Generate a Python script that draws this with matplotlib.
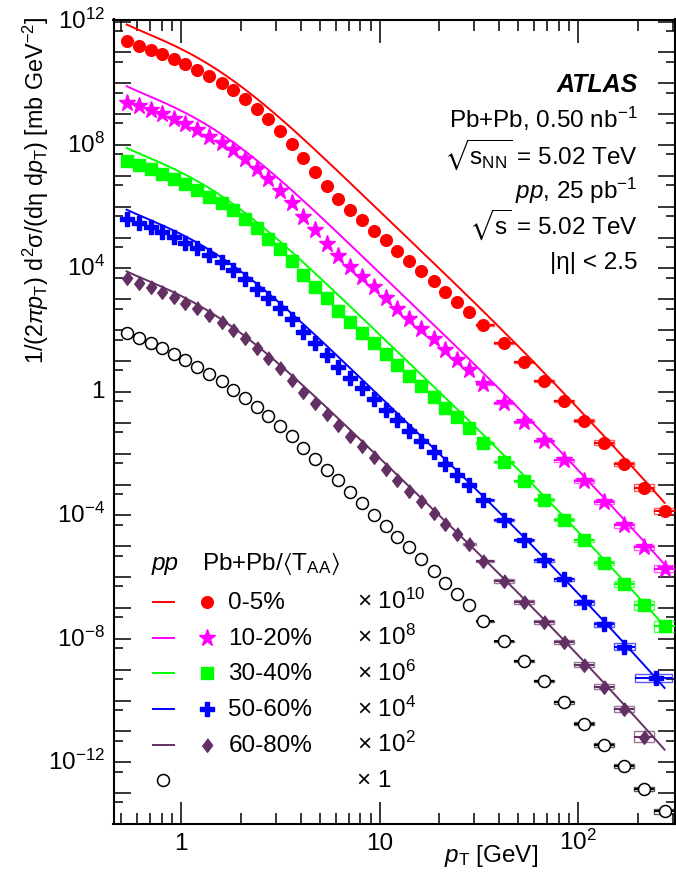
import numpy as np
import matplotlib
matplotlib.use("Agg")
import matplotlib.pyplot as plt
from matplotlib.patches import Rectangle
from matplotlib.lines import Line2D
from matplotlib import transforms
from matplotlib.ticker import LogLocator, FixedLocator, NullFormatter

plt.rcParams['font.family'] = ['Liberation Sans', 'DejaVu Sans']
plt.rcParams['mathtext.fontset'] = 'custom'
plt.rcParams['mathtext.rm'] = 'Liberation Sans'
plt.rcParams['mathtext.it'] = 'Liberation Sans:italic'
plt.rcParams['mathtext.bf'] = 'Liberation Sans:bold'
plt.rcParams['mathtext.fallback'] = 'stixsans'

# ---------------- data ----------------
pt = [0.532, 0.616, 0.704, 0.805, 0.922, 1.05, 1.20, 1.39, 1.60, 1.83,
      2.10, 2.41, 2.75, 3.15, 3.61, 4.13, 4.73, 5.42, 6.20, 7.10,
      8.13, 9.38, 10.8, 12.2, 14.0, 16.1, 18.7, 21.4, 24.5, 28.3,
      33.3, 42.4, 53.5, 67.6, 85.0, 107, 135, 169, 215, 272]

pp = [78.4, 54.0, 37.2, 25.6, 17.6, 10.7, 6.47, 3.95, 2.27, 1.18,
      0.625, 0.319, 0.163, 0.0772, 0.0366, 0.0157, 6.91e-3, 3.02e-3, 1.39e-3, 5.58e-4,
      2.45e-4, 1.06e-4, 4.57e-5, 1.98e-5, 9.18e-6, 3.80e-6, 1.60e-6, 6.47e-7, 2.89e-7, 1.21e-7,
      3.73e-8, 8.38e-9, 1.88e-9, 4.23e-10, 8.81e-11, 1.75e-11, 3.74e-12, 7.79e-13, 1.37e-13, 2.57e-14]

cent_0_5 = [23.7, 16.7, 12.4, 8.79, 6.18, 4.17, 2.72, 1.74, 1.01, 0.597,
            0.305, 0.145, 0.0686, 0.0292, 0.0108, 3.72e-3, 1.29e-3, 4.70e-4, 1.82e-4, 8.0e-5,
            3.62e-5, 1.67e-5, 8.15e-6, 3.80e-6, 1.80e-6, 8.22e-7, 3.84e-7, 1.75e-7, 8.30e-8, 3.94e-8,
            1.46e-8, 3.88e-9, 9.40e-10, 2.28e-10, 5.11e-11, 1.15e-11, 2.29e-12, 4.76e-13, 7.93e-14, 1.38e-14]

cent_10_20 = [23.7, 18.5, 13.7, 9.95, 7.00, 4.71, 3.08, 1.87, 1.14, 0.692,
              0.345, 0.164, 0.0774, 0.0331, 0.0129, 4.82e-3, 1.76e-3, 6.41e-4, 2.62e-4, 1.11e-4,
              5.25e-5, 2.43e-5, 1.07e-5, 4.89e-6, 2.23e-6, 1.06e-6, 5.01e-7, 2.25e-7, 1.07e-7, 5.18e-8,
              1.78e-8, 4.40e-9, 1.06e-9, 2.58e-10, 6.09e-11, 1.30e-11, 2.70e-12, 4.74e-13, 9.38e-14, 1.87e-14]

cent_30_40 = [30.4, 22.5, 16.7, 11.3, 7.93, 5.33, 3.48, 2.11, 1.29, 0.813,
              0.391, 0.200, 0.0877, 0.0416, 0.0170, 6.32e-3, 2.49e-3, 1.07e-3, 4.15e-4, 1.86e-4,
              8.20e-5, 3.72e-5, 1.67e-5, 7.52e-6, 3.30e-6, 1.53e-6, 6.98e-7, 3.12e-7, 1.51e-7, 7.00e-8,
              2.22e-8, 5.37e-9, 1.30e-9, 3.24e-10, 7.26e-11, 1.55e-11, 2.84e-12, 6.10e-13, 1.21e-13, 2.51e-14]

cent_50_60 = [39.1, 30.3, 21.5, 15.5, 10.2, 6.81, 4.48, 2.72, 1.65, 0.906,
              0.443, 0.219, 0.109, 0.0507, 0.0223, 8.83e-3, 3.72e-3, 1.55e-3, 6.67e-4, 2.93e-4,
              1.34e-4, 5.89e-5, 2.69e-5, 1.24e-5, 5.40e-6, 2.48e-6, 1.13e-6, 4.62e-7, 2.06e-7, 9.42e-8,
              3.07e-8, 7.26e-9, 1.63e-9, 3.48e-10, 8.41e-11, 1.54e-11, 2.92e-12, 5.64e-13, 5.45e-14]
pt_50_60_last = 247.0          # last (merged) bin centre of 50-60%
bin_50_60_last = (193.0, 296.0)

cent_60_80 = [47.6, 32.8, 24.3, 17.5, 11.5, 7.71, 5.07, 3.08, 1.86, 1.00,
              0.540, 0.256, 0.129, 0.0588, 0.0240, 0.0103, 4.53e-3, 1.99e-3, 8.77e-4, 3.79e-4,
              1.73e-4, 7.62e-5, 3.16e-5, 1.44e-5, 6.34e-6, 2.85e-6, 1.19e-6, 5.38e-7, 2.48e-7, 1.15e-7,
              3.30e-8, 7.24e-9, 1.54e-9, 3.47e-10, 7.78e-11, 1.47e-11, 2.84e-12, 5.38e-13, 6.79e-14]

# relative systematic uncertainties of the last points of each series
sys_pp = [0.04, 0.05, 0.06, 0.08, 0.10, 0.12, 0.16, 0.16, 0.19, 0.22]
sys_0_5 = [0.06, 0.07, 0.08, 0.09, 0.10, 0.12, 0.19, 0.16, 0.28, 0.28]
sys_10_20 = [0.06, 0.07, 0.08, 0.09, 0.10, 0.12, 0.15, 0.19, 0.21, 0.28]
sys_30_40 = [0.06, 0.07, 0.08, 0.09, 0.10, 0.12, 0.16, 0.25, 0.38, 0.49]
sys_50_60 = [0.06, 0.07, 0.08, 0.09, 0.10, 0.12, 0.19, 0.21, 0.28, 0.37]
sys_60_80 = [0.08, 0.10, 0.16, 0.16, 0.16, 0.16, 0.19, 0.21, 0.22, 0.54]

labels = ["0-5%", "10-20%", "30-40%", "50-60%", "60-80%"]
scale_exp = [10, 8, 6, 4, 2]

# ---------------- figure ----------------
W, H = 676, 874
fig = plt.figure(figsize=(W / 100, H / 100), dpi=100)

def fx(x):
    return x / W

def fy(y):
    return 1 - y / H

ax_l, ax_r, ax_t, ax_b = 113.5, 675.0, 19.5, 824.0
ax = fig.add_axes([fx(ax_l), fy(ax_b), (ax_r - ax_l) / W, (ax_b - ax_t) / H])
ax.set_xscale('log')
ax.set_yscale('log')
ax.set_xlim(0.457, 307)
ax.set_ylim(1e-14, 1.17e12)

pt_arr = np.array(pt)
mid = np.sqrt(pt_arr[:-1] * pt_arr[1:])
lo = np.concatenate([[pt_arr[0] ** 2 / mid[0]], mid])
hi = np.concatenate([mid, [pt_arr[-1] ** 2 / mid[-1]]])

cols = ['#ff0000', '#ff00ff', '#00ff00', '#0000ff', '#633063']
markers = ['o', '*', 's', 'P', [(0, 1), (0.75, 0), (0, -1), (-0.75, 0)]]
msizes = [8.4, 12.5, 8.3, 9.6, 9.8]
series = [cent_0_5, cent_10_20, cent_30_40, cent_50_60, cent_60_80]
syss = [sys_0_5, sys_10_20, sys_30_40, sys_50_60, sys_60_80]

pp_arr = np.array(pp)

# smooth pp reference curve (fit to the pp points in log-log space)
lx = np.log10(pt_arr)
ly = np.log10(pp_arr)
coef = np.polyfit(lx, ly, 7)
xs = np.logspace(lx[0], lx[-1], 300)
pp_curve = 10.0 ** np.polyval(coef, np.log10(xs))


def draw_series(x, xlo, xhi, y, color, marker, ms, mfc, sysv, mew=1.0):
    x = np.asarray(x); y = np.asarray(y)
    xlo = np.asarray(xlo); xhi = np.asarray(xhi)
    n = len(sysv)
    for xi, yi, s, a, b in zip(x[-n:], y[-n:], sysv, xlo[-n:], xhi[-n:]):
        ax.add_patch(Rectangle((a, yi / (1 + s)), b - a, yi * (1 + s) - yi / (1 + s),
                               fill=False, ec=color, lw=1.0, alpha=0.65, zorder=3))
    sel = x > 30
    ax.hlines(y[sel], xlo[sel], xhi[sel], color=color, lw=1.5, zorder=3)
    ax.plot(x, y, ls='none', marker=marker, ms=ms, mfc=mfc, mec=color,
            mew=mew, zorder=5)


# scaled pp reference lines
for c, e in zip(cols, scale_exp):
    ax.plot(xs, pp_curve * 10.0 ** e, color=c, lw=1.4, zorder=4)

# Pb+Pb points
for i, (yv, c, m, ms, sv, e) in enumerate(zip(series, cols, markers, msizes, syss, scale_exp)):
    yv = np.array(yv) * 10.0 ** e
    n = len(yv)
    if i == 3:
        xv = np.concatenate([pt_arr[:n - 1], [pt_50_60_last]])
        xl = np.concatenate([lo[:n - 1], [bin_50_60_last[0]]])
        xh = np.concatenate([hi[:n - 2], [bin_50_60_last[0], bin_50_60_last[1]]])
    else:
        xv = pt_arr[:n]; xl = lo[:n]; xh = hi[:n]
    draw_series(xv, xl, xh, yv, c, m, ms, c, sv)

# pp points (x 1)
draw_series(pt_arr, lo, hi, pp_arr, 'black', 'o', 8.6, 'white', sys_pp, mew=1.1)

# ---------------- axes styling ----------------
for sp in ax.spines.values():
    sp.set_linewidth(1.5)
ax.xaxis.set_major_locator(LogLocator(base=10, numticks=20))
ax.xaxis.set_minor_locator(LogLocator(base=10, subs=np.arange(2, 10), numticks=20))
ax.yaxis.set_major_locator(LogLocator(base=10, numticks=60))
ax.yaxis.set_minor_locator(FixedLocator([5 * 10.0 ** k for k in range(-15, 13)]))
ax.xaxis.set_minor_formatter(NullFormatter())
ax.yaxis.set_minor_formatter(NullFormatter())
ax.tick_params(axis='x', which='major', direction='in', length=16.2, width=1.1, top=True)
ax.tick_params(axis='x', which='minor', direction='in', length=8.1, width=1.1, top=True)
ax.tick_params(axis='y', which='major', direction='in', length=12.5, width=1.1, right=True)
ax.tick_params(axis='y', which='minor', direction='in', length=6.2, width=1.1, right=True)
ax.tick_params(labelbottom=False, labelleft=False)

FS = 17.5
# y tick labels
ytr = transforms.blended_transform_factory(fig.transFigure, ax.transData)
for k in [12, 8, 4, 0, -4, -8, -12]:
    lab = "1" if k == 0 else r"10$^{%d}$" % k
    fig.text(fx(105), 10.0 ** k, lab, transform=ytr, ha='right', va='center', fontsize=FS)
# x tick labels
xtr = transforms.blended_transform_factory(ax.transData, fig.transFigure)
for v, lab in [(1, "1"), (10, "10"), (100, r"10$^{2}$")]:
    fig.text(v, fy(850), lab, transform=xtr, ha='center', va='baseline', fontsize=FS)

# axis titles
fig.text(fx(36), fy(16),
         r"1/(2$\pi$$\mathit{p}_{\mathrm{T}}$) d$^{2}$σ/(dη d$\mathit{p}_{\mathrm{T}}$) [mb GeV$^{-2}$]",
         rotation=90, ha='center', va='top', fontsize=16.8)
fig.text(fx(491), fy(862), r"$\mathit{p}_{\mathrm{T}}$ [GeV]", ha='center', va='baseline', fontsize=FS)

# annotations
xr = fx(638)
fig.text(xr, fy(91.7), "ATLAS", ha='right', va='baseline', fontsize=FS + 0.5,
         fontweight='bold', fontstyle='italic')
fig.text(xr, fy(128.3), r"Pb+Pb, 0.50 nb$^{-1}$", ha='right', va='baseline', fontsize=FS)
fig.text(xr, fy(163.3), r"$\sqrt{\mathrm{s}_{\mathrm{NN}}}$ = 5.02 TeV", ha='right', va='baseline', fontsize=FS)
fig.text(xr, fy(199.3), r"$\mathit{pp}$, 25 pb$^{-1}$", ha='right', va='baseline', fontsize=FS)
fig.text(xr, fy(233.3), r"$\sqrt{\mathrm{s}}$ = 5.02 TeV", ha='right', va='baseline', fontsize=FS)
fig.text(xr, fy(269.3), "|η| < 2.5", ha='right', va='baseline', fontsize=FS)

# legend (manual)
fig.text(fx(151.7), fy(570), "pp", fontstyle='italic', ha='left', va='baseline', fontsize=FS)
fig.text(fx(201.7), fy(570), r"Pb+Pb/$\langle$T$_{\mathrm{AA}}\rangle$", ha='left', va='baseline', fontsize=FS)
row_base = [609, 645, 680.5, 716.5, 752, 787]
for i in range(5):
    yb = row_base[i]
    ym = yb - 7.5
    fig.add_artist(Line2D([fx(152.7), fx(174)], [fy(ym), fy(ym)], color=cols[i], lw=1.4,
                          transform=fig.transFigure))
    fig.add_artist(Line2D([fx(206.7)], [fy(ym)], ls='none', marker=markers[i], ms=msizes[i],
                          color=cols[i], mec=cols[i], transform=fig.transFigure))
    fig.text(fx(228.3), fy(yb), labels[i], ha='left', va='baseline', fontsize=FS)
    fig.text(fx(356.7), fy(yb), r"× 10$^{%d}$" % scale_exp[i], ha='left', va='baseline', fontsize=FS)
fig.add_artist(Line2D([fx(163.3)], [fy(row_base[5] - 7.5)], ls='none', marker='o', ms=8.6,
                      mfc='white', mec='black', mew=1.1, transform=fig.transFigure))
fig.text(fx(356.7), fy(row_base[5]), "× 1", ha='left', va='baseline', fontsize=FS)

fig.savefig("out.png", dpi=100)
